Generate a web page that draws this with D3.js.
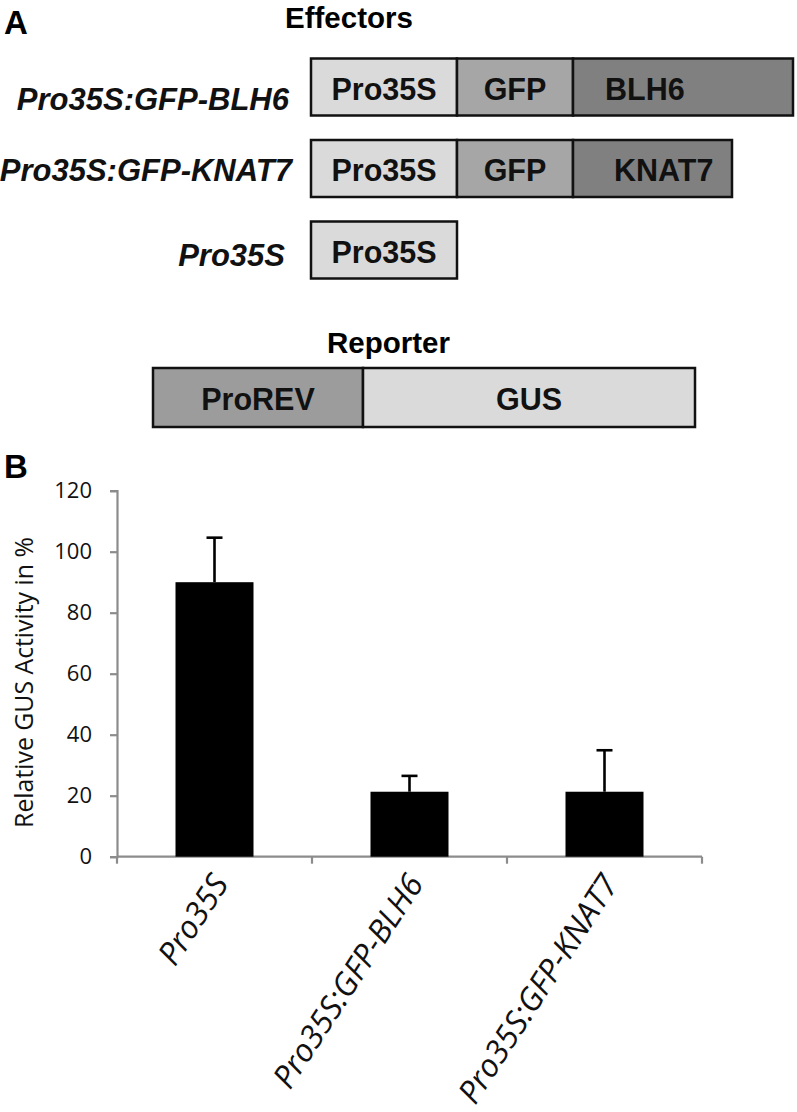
<!DOCTYPE html>
<html><head><meta charset="utf-8">
<script src="https://cdn.jsdelivr.net/npm/d3@7"></script>
<style>html,body{margin:0;padding:0;background:#fff;} svg{display:block;}</style>
</head><body>
<script>
// ---- Data ----
const categories = ["Pro35S", "Pro35S:GFP-BLH6", "Pro35S:GFP-KNAT7"];
const values = [90, 21.3, 21.3];
const errors = [14.6, 5.2, 13.6];
const yTicks = [0, 20, 40, 60, 80, 100, 120];
const yTitle = "Relative GUS Activity in %";

const effectorNames = ["Pro35S:GFP-BLH6", "Pro35S:GFP-KNAT7", "Pro35S"];
const effectorParts = [["Pro35S", "GFP", "BLH6"], ["Pro35S", "GFP", "KNAT7"], ["Pro35S"]];
const effectorLengths = [[146, 116, 220], [146, 116, 159], [146]];
const reporterParts = ["ProREV", "GUS"];
const reporterLengths = [210, 332];
const partColors = {Pro35S: "#dadada", GFP: "#a6a6a6", BLH6: "#808080", KNAT7: "#808080", ProREV: "#9c9c9c", GUS: "#dadada"};
// layout tweaks
const partTextLeft = {BLH6: 32, KNAT7: 41};
const labelRight = [289, 292, 285];
const labelDy = [23, 12, 16];

const W = 797, H = 1112;
const svg = d3.select("body").append("svg").attr("width", W).attr("height", H);

// ---- Panel A ----
const diagFont = "'Liberation Sans', Arial, sans-serif";
svg.append("text").attr("x", 4).attr("y", 34).attr("font-family", diagFont)
  .attr("font-weight", "bold").attr("font-size", 33).text("A");
svg.append("text").attr("x", 285).attr("y", 28).attr("font-family", diagFont)
  .attr("font-weight", "bold").attr("font-size", 29.5).text("Effectors");

const lenScale = d3.scaleLinear().domain([0, 500]).range([311, 811]);
const rowY = d3.scalePoint().domain(effectorNames).range([87, 250]);
const boxH = 57;

function drawConstruct(g, parts, lengths, x0scale, cy, h) {
  let acc = 0;
  parts.forEach((p, i) => {
    const x0 = x0scale(acc), x1 = x0scale(acc + lengths[i]);
    g.append("rect").attr("x", x0).attr("y", cy - h / 2).attr("width", x1 - x0).attr("height", h)
      .attr("fill", partColors[p]).attr("stroke", "#111").attr("stroke-width", 2.5);
    const off = partTextLeft[p];
    g.append("text")
      .attr("x", off != null ? x0 + off : (x0 + x1) / 2)
      .attr("y", cy + 12.5)
      .attr("text-anchor", off != null ? "start" : "middle")
      .attr("font-family", diagFont).attr("font-weight", "bold").attr("font-size", 30.5)
      .attr("fill", "#111").text(p);
    acc += lengths[i];
  });
}

effectorNames.forEach((name, r) => {
  const cy = rowY(name);
  drawConstruct(svg.append("g"), effectorParts[r], effectorLengths[r], lenScale, cy, boxH);
  svg.append("text")
    .attr("x", labelRight[r]).attr("y", cy + labelDy[r])
    .attr("text-anchor", "end").attr("font-family", diagFont)
    .attr("font-weight", "bold").attr("font-style", "italic").attr("font-size", 31)
    .attr("fill", "#111").text(name);
});

svg.append("text").attr("x", 327).attr("y", 353).attr("font-family", diagFont)
  .attr("font-weight", "bold").attr("font-size", 29.5).text("Reporter");
const repScale = d3.scaleLinear().domain([0, 542]).range([153, 695]);
drawConstruct(svg.append("g"), reporterParts, reporterLengths, repScale, 397.5, 59);

// ---- Panel B ----
svg.append("text").attr("x", 4).attr("y", 478).attr("font-family", diagFont)
  .attr("font-weight", "bold").attr("font-size", 33).text("B");

const chartFont = "'Open Sans', sans-serif";
const x0 = 117, step = 195;
const x = d3.scaleBand().domain(categories).range([x0, x0 + step * 3]).paddingInner(0.6).paddingOuter(0.3);
const y = d3.scaleLinear().domain([0, 120]).range([856.7, 490.7]);
const axisColor = "#8c8c8c";

// y axis
const yAxis = svg.append("g").attr("transform", `translate(${x0},0)`)
  .call(d3.axisLeft(y).tickValues(yTicks).tickSize(7).tickPadding(18).tickFormat(d3.format("d")));
yAxis.select(".domain").attr("stroke", axisColor).attr("stroke-width", 2.2);
yAxis.selectAll(".tick line").attr("stroke", axisColor).attr("stroke-width", 2.2);
yAxis.selectAll(".tick text").attr("font-family", chartFont).attr("font-size", 22).attr("fill", "#111");

// x axis
const xAxisG = svg.append("g").attr("transform", `translate(0,${y(0)})`);
xAxisG.append("line").attr("x1", x0).attr("x2", x0 + step * 3).attr("stroke", axisColor).attr("stroke-width", 2.2);
const boundaries = d3.range(0, 4).map(i => x0 + i * step);
xAxisG.selectAll("line.tk").data(boundaries).join("line").attr("class", "tk")
  .attr("x1", d => d).attr("x2", d => d).attr("y1", 0).attr("y2", 7)
  .attr("stroke", axisColor).attr("stroke-width", 2.2);

// bars
svg.selectAll("rect.bar").data(categories).join("rect").attr("class", "bar")
  .attr("x", d => x(d)).attr("width", x.bandwidth())
  .attr("y", (d, i) => y(values[i])).attr("height", (d, i) => y(0) - y(values[i]))
  .attr("fill", "#000");

// error bars
const eg = svg.append("g").attr("stroke", "#000").attr("stroke-width", 2.6);
categories.forEach((c, i) => {
  const cx = x(c) + x.bandwidth() / 2;
  const top = y(values[i] + errors[i]);
  eg.append("line").attr("x1", cx).attr("x2", cx).attr("y1", y(values[i])).attr("y2", top);
  eg.append("line").attr("x1", cx - 8).attr("x2", cx + 8).attr("y1", top).attr("y2", top);
});

// x labels (font size fitted so the longest label has the reference length)
const xl = svg.selectAll("text.xl").data(categories).join("text").attr("class", "xl")
  .attr("transform", d => `translate(${x(d) + x.bandwidth() / 2 + 15},${y(0) + 27}) rotate(-57)`)
  .attr("text-anchor", "end").attr("font-family", chartFont).attr("font-style", "italic")
  .attr("font-size", 24).attr("fill", "#111").text(d => d);
const refLen = xl.filter((d, i) => i === 1).node().getComputedTextLength();
xl.attr("font-size", 24 * 247 / refLen);

// y title
const yt = svg.append("text").attr("transform", `translate(33,682.5) rotate(-90)`)
  .attr("text-anchor", "middle").attr("font-family", chartFont).attr("font-size", 24)
  .attr("fill", "#111").text(yTitle);
yt.attr("font-size", 24 * 291 / yt.node().getComputedTextLength());
</script>
</body></html>
